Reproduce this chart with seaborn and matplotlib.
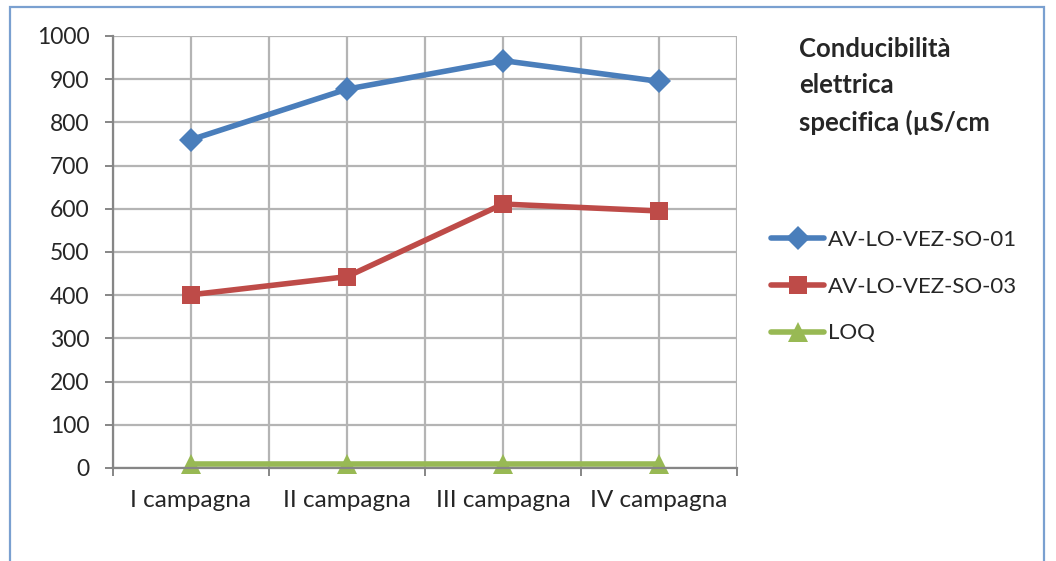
import matplotlib
matplotlib.use("Agg")
import matplotlib.pyplot as plt
import pandas as pd
import seaborn as sns
from matplotlib.patches import Rectangle

CAMPAGNE = ["I campagna", "II campagna", "III campagna", "IV campagna"]
SO_01 = [760, 877, 943, 895]
SO_03 = [401, 443, 611, 595]
LOQ = [10, 10, 10, 10]
SERIES = ["AV-LO-VEZ-SO-01", "AV-LO-VEZ-SO-03", "LOQ"]
COLORS = ["#4a7ebb", "#be4b48", "#98b954"]
MARKERS = ["D", "s", "^"]
MARKER_SIZES = [12, 13, 15]

sns.set_style("white")
plt.rcParams["font.family"] = ["Lato", "DejaVu Sans"]

data = pd.DataFrame({
    "campagna": CAMPAGNE * 3,
    "valore": SO_01 + SO_03 + LOQ,
    "serie": [s for s in SERIES for _ in CAMPAGNE],
})

fig = plt.figure(figsize=(10.56, 5.61), dpi=100)
ax = fig.add_axes([113 / 1056, 1 - 468 / 561, 624 / 1056, 432 / 561])

sns.lineplot(
    data=data, x="campagna", y="valore", hue="serie", style="serie",
    palette=dict(zip(SERIES, COLORS)), markers=dict(zip(SERIES, MARKERS)),
    dashes=False, linewidth=4, markeredgewidth=0,
    sort=False, ax=ax, legend=False,
)
for line, size in zip(ax.lines, MARKER_SIZES):
    line.set_markersize(size)
    line.set_clip_on(False)

ax.set_xlim(-0.5, 3.5)
ax.set_ylim(0, 1000)
ax.set_yticks(range(0, 1001, 100))
ax.set_xticks(range(len(CAMPAGNE)))
ax.set_xticklabels(CAMPAGNE)
ax.set_xticks([x - 0.5 for x in range(len(CAMPAGNE) + 1)], minor=True)
ax.set_xlabel("")
ax.set_ylabel("")
ax.grid(True, which="both", axis="x", color="#b4b4b4", linewidth=1.6)
ax.grid(True, which="major", axis="y", color="#b4b4b4", linewidth=1.6)
ax.set_axisbelow(True)
for side in ["top", "right"]:
    ax.spines[side].set_visible(False)
for side in ["left", "bottom"]:
    ax.spines[side].set_color("#868686")
    ax.spines[side].set_linewidth(1.6)
ax.tick_params(axis="y", which="major", left=True, length=6, width=1.4,
               color="#868686", labelsize=16.5, pad=11)
ax.tick_params(axis="x", which="major", bottom=False, labelsize=17.5, pad=12)
ax.tick_params(axis="x", which="minor", bottom=True, length=6, width=1.4,
               color="#868686")

fig.text(799 / 1056, 1 - 37 / 561, "Conducibilità\nelettrica\nspecifica (µS/cm",
         fontsize=18.5, fontweight="bold", va="top", ha="left", linespacing=1.6)

handles = [
    plt.Line2D([], [], color=c, marker=m, linewidth=4, markersize=s,
               markeredgewidth=0)
    for c, m, s in zip(COLORS, MARKERS, MARKER_SIZES)
]
fig.legend(handles, SERIES, loc="upper left",
           bbox_to_anchor=(760 / 1056, 1 - 219 / 561), frameon=False,
           fontsize=16, handlelength=2.4, handletextpad=0.15, labelspacing=1.2,
           borderpad=0)

fig.patches.append(Rectangle((10 / 1056, -0.1), 1034 / 1056, 1.1 - 7 / 561,
                             transform=fig.transFigure, fill=False,
                             edgecolor="#7aa0d0", linewidth=1.6))

fig.savefig("out.png", dpi=100)
